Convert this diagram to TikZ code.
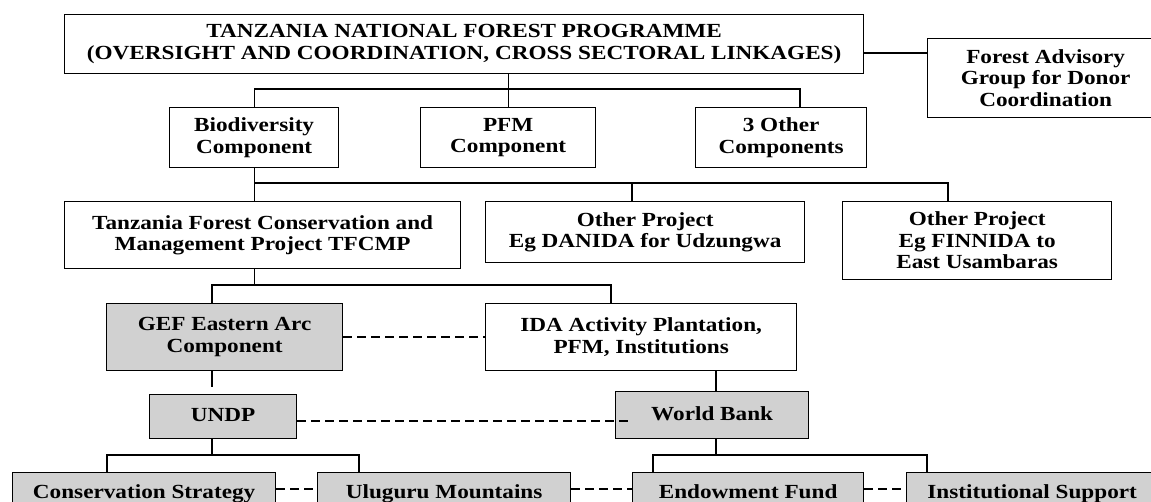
\documentclass[tikz,border=0pt]{standalone}
\usepackage{fontspec}
\setmainfont{Liberation Serif}[FakeStretch=1.16]

\tikzset{
  box/.style={draw, line width=1.3pt, anchor=north west, align=center, inner sep=0pt,
    font=\fontsize{20}{21.5}\selectfont\bfseries},
  greybox/.style={box, fill=black!18},
  oneline/.style={text height=14pt, text depth=4pt},
  link/.style={line width=1.3pt},
  dashlink/.style={line width=1.6pt, dash pattern=on 9pt off 5pt},
}

\begin{document}
\begin{tikzpicture}[x=1pt, y=-1pt]
      \useasboundingbox (0,0) rectangle (1151,502);
      \clip (0,0) rectangle (1151,502);
      \node[box, minimum width=799, minimum height=59] (prog) at (64,14) {TANZANIA NATIONAL FOREST PROGRAMME\\(OVERSIGHT AND COORDINATION, CROSS SECTORAL LINKAGES)};
      \node[box, minimum width=236, minimum height=79] (adv) at (927,38) {Forest Advisory\\Group for Donor\\Coordination};
      \node[box, minimum width=169, minimum height=60] (bio) at (169,107) {Biodiversity\\Component};
      \node[box, minimum width=175, minimum height=60] (pfm) at (420,107) {PFM\\Component};
      \node[box, minimum width=171, minimum height=60] (oth) at (695,107) {3 Other\\Components};
      \node[box, minimum width=396, minimum height=67] (tfc) at (64,201) {Tanzania Forest Conservation and\\Management Project TFCMP};
      \node[box, minimum width=319, minimum height=61] (dan) at (485,201) {Other Project\\Eg DANIDA for Udzungwa};
      \node[box, minimum width=269, minimum height=78] (fin) at (842,201) {Other Project\\Eg FINNIDA to\\East Usambaras};
      \node[greybox, minimum width=236, minimum height=67] (gef) at (106,303) {GEF Eastern Arc\\Component};
      \node[box, minimum width=311, minimum height=67] (ida) at (485,303) {IDA Activity Plantation,\\PFM, Institutions};
      \node[greybox, oneline, minimum width=147, minimum height=44] (undp) at (149,394) {UNDP};
      \node[greybox, oneline, minimum width=193, minimum height=47] (wb) at (615,391) {World Bank};
      \node[greybox, oneline, minimum width=263, minimum height=42] (cons) at (12,472) {Conservation Strategy};
      \node[greybox, oneline, minimum width=253, minimum height=42] (ulu) at (317,472) {Uluguru Mountains};
      \node[greybox, oneline, minimum width=231, minimum height=42] (endow) at (632,472) {Endowment Fund};
      \node[greybox, oneline, minimum width=251, minimum height=42] (inst) at (906,472) {Institutional Support};

      \coordinate (b1) at (800,89);
      \coordinate (b2d) at (632,183);
      \coordinate (b2) at (948,183);
      \coordinate (b3l) at (212,285);
      \coordinate (b3r) at (611,285);
      \coordinate (b4) at (716,455);
      \coordinate (b5l) at (107,455);
      \coordinate (b5r) at (359,455);
      \coordinate (b6l) at (653,455);
      \coordinate (b6r) at (927,455);

      \draw[link] (prog.east |- 0,53) -- (adv.west |- 0,53);
      \draw[link] (pfm.north |- prog.south) -- (pfm.north);
      \draw[link] (bio.north) |- (b1) -- (b1 |- oth.north);
      \draw[link] (bio.south) -- (bio.south |- tfc.north);
      \draw[link] (bio.south |- b2) -- (b2) -- (b2 |- fin.north);
      \draw[link] (b2d) -- (b2d |- dan.north);
      \draw[link] (bio.south |- tfc.south) -- (bio.south |- b3l);
      \draw[link] (b3l |- gef.north) -- (b3l) -- (b3r) -- (b3r |- ida.north);
      \draw[link] (b3l |- gef.south) -- ([yshift=7pt]b3l |- undp.north);
      \draw[link] (ida.south -| b4) -- (wb.north -| b4);
      \draw[link] (wb.south -| b4) -- (b4);
      \draw[link] (b3l |- undp.south) -- (b3l |- b5l);
      \draw[link] (b5l |- cons.north) -- (b5l) -- (b5r) -- (b5r |- ulu.north);
      \draw[link] (b6l |- endow.north) -- (b6l) -- (b6r) -- (b6r |- inst.north);

      \draw[dashlink] (gef.east) -- (ida.west);
      \draw[dashlink] (undp.east |- 0,421) -- ([xshift=18pt]wb.west |- 0,421);
      \draw[dashlink] (cons.east |- 0,489) -- (ulu.west |- 0,489);
      \draw[dashlink] (ulu.east |- 0,489) -- (endow.west |- 0,489);
      \draw[dashlink] (endow.east |- 0,489) -- (inst.west |- 0,489);
\end{tikzpicture}
\end{document}
